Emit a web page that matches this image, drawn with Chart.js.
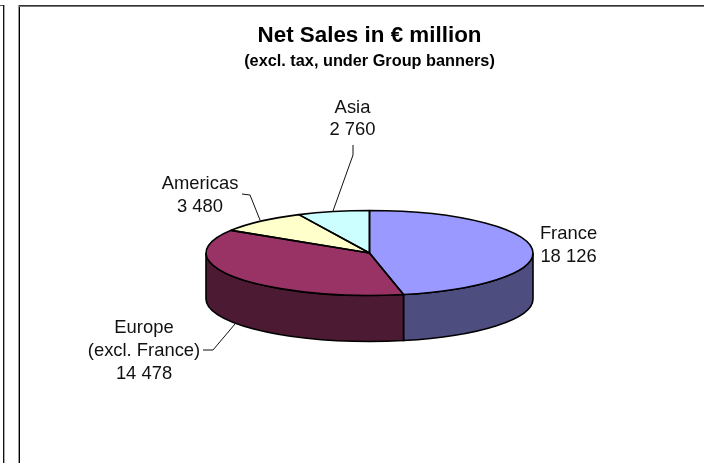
<!DOCTYPE html>
<html>
<head>
<meta charset="utf-8">
<script src="https://cdn.jsdelivr.net/npm/chart.js@4"></script>
<style>
  html, body { margin: 0; padding: 0; background: #fff; overflow: hidden; }
  #wrap { position: relative; width: 704px; height: 463px; }
  canvas { position: absolute; left: 0; top: 0; }
  .rule { position: absolute; }
</style>
</head>
<body>
<div id="wrap">
  <canvas id="chart" width="704" height="463"></canvas>
  <div class="rule" style="left:0;top:5px;width:4px;height:1px;background:#555"></div>
  <div class="rule" style="left:3px;top:5px;width:1px;height:458px;background:#111"></div>
  <div class="rule" style="left:4px;top:5px;width:1px;height:458px;background:#aaa"></div>
  <div class="rule" style="left:18px;top:5px;width:1px;height:458px;background:#999"></div>
  <div class="rule" style="left:19px;top:5px;width:1px;height:458px;background:#000"></div>
  <div class="rule" style="left:19px;top:5px;width:685px;height:1px;background:#333"></div>
  <div class="rule" style="left:19px;top:6px;width:685px;height:1px;background:#777"></div>
</div>
<script>
const categories = ['France', 'Europe', 'Americas', 'Asia'];
const salesValues = [18126, 14478, 3480, 2760];
const labelNames = [['France'], ['Europe', '(excl. France)'], ['Americas'], ['Asia']];
const topColors = ['#9999FF', '#993366', '#FFFFCC', '#CCFFFF'];
const wallColors = ['#4D4D80', '#4D1A33', '#80806A', '#6A8080'];

// Disc proportions and wall height of the tilted pie.
const SQUASH = 0.26;
const WALL = 46;

// Text anchors and leader lines for each slice, in canvas pixels.
const labelAnchors = [
  { x: 568.5, y: 234 },
  { x: 144, y: 328 },
  { x: 200, y: 183.5 },
  { x: 352.5, y: 108 }
];
const labelSteps = [23, 23, 23, 22];
const leaders = [
  [],
  [[203, 350], [213, 350], [235, 324]],
  [[242, 194], [250, 195], [260, 220]],
  [[353, 145], [353, 155], [333, 211]]
];

const fmt = v => String(v).replace(/\B(?=(\d{3})+$)/g, ' ');

function squashed(ctx, arc, body) {
  ctx.save();
  ctx.translate(arc.x, arc.y);
  ctx.scale(1, SQUASH);
  ctx.translate(-arc.x, -arc.y);
  body();
  ctx.restore();
}

const tiltedPie = {
  id: 'tiltedPie',
  beforeDatasetsDraw(chart) {
    const ctx = chart.ctx;
    const arcs = chart.getDatasetMeta(0).data;
    // Outer wall: only the part of each slice that faces the viewer.
    arcs.forEach((arc, i) => {
      const a0 = Math.max(arc.startAngle, 0);
      const a1 = Math.min(arc.endAngle, Math.PI);
      if (a1 <= a0) return;
      const r = arc.outerRadius, ry = r * SQUASH;
      ctx.beginPath();
      ctx.ellipse(arc.x, arc.y, r, ry, 0, a0, a1);
      ctx.ellipse(arc.x, arc.y + WALL, r, ry, 0, a1, a0, true);
      ctx.closePath();
      ctx.fillStyle = wallColors[i];
      ctx.fill();
      ctx.strokeStyle = '#000';
      ctx.lineWidth = 1.6;
      ctx.stroke();
    });
    const c = arcs[0];
    ctx.save();
    ctx.translate(c.x, c.y);
    ctx.scale(1, SQUASH);
    ctx.translate(-c.x, -c.y);
  },
  afterDatasetsDraw(chart) {
    const ctx = chart.ctx;
    ctx.restore();
    const arcs = chart.getDatasetMeta(0).data;
    // Slice outlines keep an even width once the path is flattened.
    arcs.forEach(arc => {
      ctx.beginPath();
      squashed(ctx, arc, () => {
        ctx.moveTo(arc.x, arc.y);
        ctx.arc(arc.x, arc.y, arc.outerRadius, arc.startAngle, arc.endAngle);
        ctx.closePath();
      });
      ctx.strokeStyle = '#000';
      ctx.lineWidth = 1.6;
      ctx.lineJoin = 'round';
      ctx.stroke();
    });
    // Leader lines and value labels.
    ctx.strokeStyle = '#111';
    ctx.lineWidth = 1;
    leaders.forEach(pts => {
      if (!pts.length) return;
      ctx.beginPath();
      pts.forEach(([x, y], k) => k ? ctx.lineTo(x, y) : ctx.moveTo(x, y));
      ctx.stroke();
    });
    ctx.fillStyle = '#111';
    ctx.font = '18.4px "Liberation Sans", Arial, sans-serif';
    ctx.textAlign = 'center';
    ctx.textBaseline = 'middle';
    salesValues.forEach((v, i) => {
      const lines = [...labelNames[i], fmt(v)];
      lines.forEach((t, k) => ctx.fillText(t, labelAnchors[i].x, labelAnchors[i].y + k * labelSteps[i]));
    });
  }
};

new Chart(document.getElementById('chart'), {
  type: 'pie',
  data: {
    labels: categories,
    datasets: [{ data: salesValues, backgroundColor: topColors, borderWidth: 0 }]
  },
  plugins: [tiltedPie],
  options: {
    responsive: false,
    animation: false,
    layout: { padding: { left: 206, right: 171, top: 22.6, bottom: 46.5 } },
    plugins: {
      legend: { display: false },
      tooltip: { enabled: false },
      title: {
        display: true,
        text: 'Net Sales in € million',
        color: '#000',
        font: { family: '"Liberation Sans", Arial, sans-serif', size: 22.4, weight: 'bold', lineHeight: 1.2 },
        padding: { top: 0, bottom: 2.7 }
      },
      subtitle: {
        display: true,
        text: '(excl. tax, under Group banners)',
        color: '#000',
        font: { family: '"Liberation Sans", Arial, sans-serif', size: 16.3, weight: 'bold', lineHeight: 1.2 },
        padding: { top: 0, bottom: 17.7 }
      }
    }
  }
});
</script>
</body>
</html>
